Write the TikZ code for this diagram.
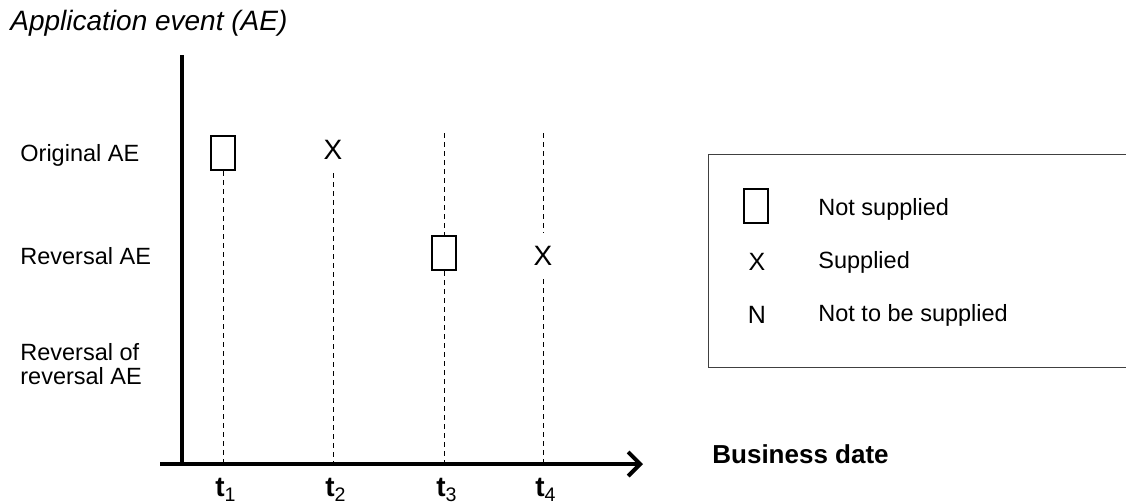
\documentclass[tikz,border=0pt]{standalone}
\usepackage{fontspec}
\setmainfont{Liberation Sans}
\usetikzlibrary{arrows.meta}
\begin{document}
\begin{tikzpicture}[x=0.5pt, y=-0.5pt,
  nsbox/.style={draw, line width=1pt, minimum width=12pt, minimum height=17pt, inner sep=0pt},
  xmark/.style={font=\fontsize{14}{14}\selectfont, inner xsep=1pt, inner ysep=6.5pt},
  rowlabel/.style={anchor=west, align=left, font=\fontsize{11.75}{12}\selectfont, inner sep=0pt},
  tlabel/.style={font=\bfseries\fontsize{14}{14}\selectfont, inner sep=0pt},
  guide/.style={dashed, dash pattern=on 2.5pt off 2pt, line width=0.5pt},
  axis/.style={line width=2pt}]
\useasboundingbox (0,0) rectangle (1126,504);
\clip (0,0) rectangle (1126,504);
\node[anchor=base west, font=\itshape\fontsize{14}{14}\selectfont, inner sep=0pt] (title) at (10,30) {Application event (AE)};
\node[rowlabel] (orig) at (20,155) {Original AE};
\node[rowlabel] (rev) at (20,256) {Reversal AE};
\node[rowlabel] (revrev) at (20,364) {Reversal of\\reversal AE};
\coordinate (ytop) at (182,55);
\coordinate (o) at (182,464);
\coordinate (xstart) at (160,464);
\coordinate (xend) at (643,464);
\draw[axis] (ytop) -- (o);
\draw[axis, -{Straight Barb[length=6pt, width=12pt, line width=2pt]}] (xstart) -- (xend);
\node[anchor=west, font=\bfseries\fontsize{13}{13}\selectfont, inner sep=0pt] (bdate) at (712,454) {Business date};
\node[nsbox] (m1) at (223,153) {};
\node[xmark] (m2) at (333,150) {X};
\node[nsbox] (m3) at (444,253) {};
\node[xmark] (m4) at (543,256) {X};
\coordinate (top3) at (444,133);
\coordinate (top4) at (543,133);
\coordinate (b1) at (223,464);
\coordinate (b2) at (333,464);
\coordinate (b3) at (444,464);
\coordinate (b4) at (543,464);
\draw[guide] (m1.south) -- (b1);
\draw[guide] (m2.south) -- (b2);
\draw[guide] (top3) -- (m3.north);
\draw[guide] (m3.south) -- (b3);
\draw[guide] (top4) -- (m4.north);
\draw[guide] (m4.south) -- (b4);
\node[tlabel] (t1) at (226,490) {t\textsubscript{\mdseries 1}};
\node[tlabel] (t2) at (336,490) {t\textsubscript{\mdseries 2}};
\node[tlabel] (t3) at (447,490) {t\textsubscript{\mdseries 3}};
\node[tlabel] (t4) at (546,490) {t\textsubscript{\mdseries 4}};
% legend
\draw[line width=0.5pt, black!75] (708,154) rectangle (1140,367);
\node[nsbox] (lbox) at (756,206) {};
\node[font=\fontsize{12.5}{12.5}\selectfont, inner sep=1pt] (lx) at (757,262) {X};
\node[font=\fontsize{12.5}{12.5}\selectfont, inner sep=1pt] (ln) at (757,315) {N};
\node[rowlabel] (lboxtxt) at (818,209) {Not supplied};
\node[rowlabel] (lxtxt) at (818,262) {Supplied};
\node[rowlabel] (lntxt) at (818,315) {Not to be supplied};
\end{tikzpicture}
\end{document}
